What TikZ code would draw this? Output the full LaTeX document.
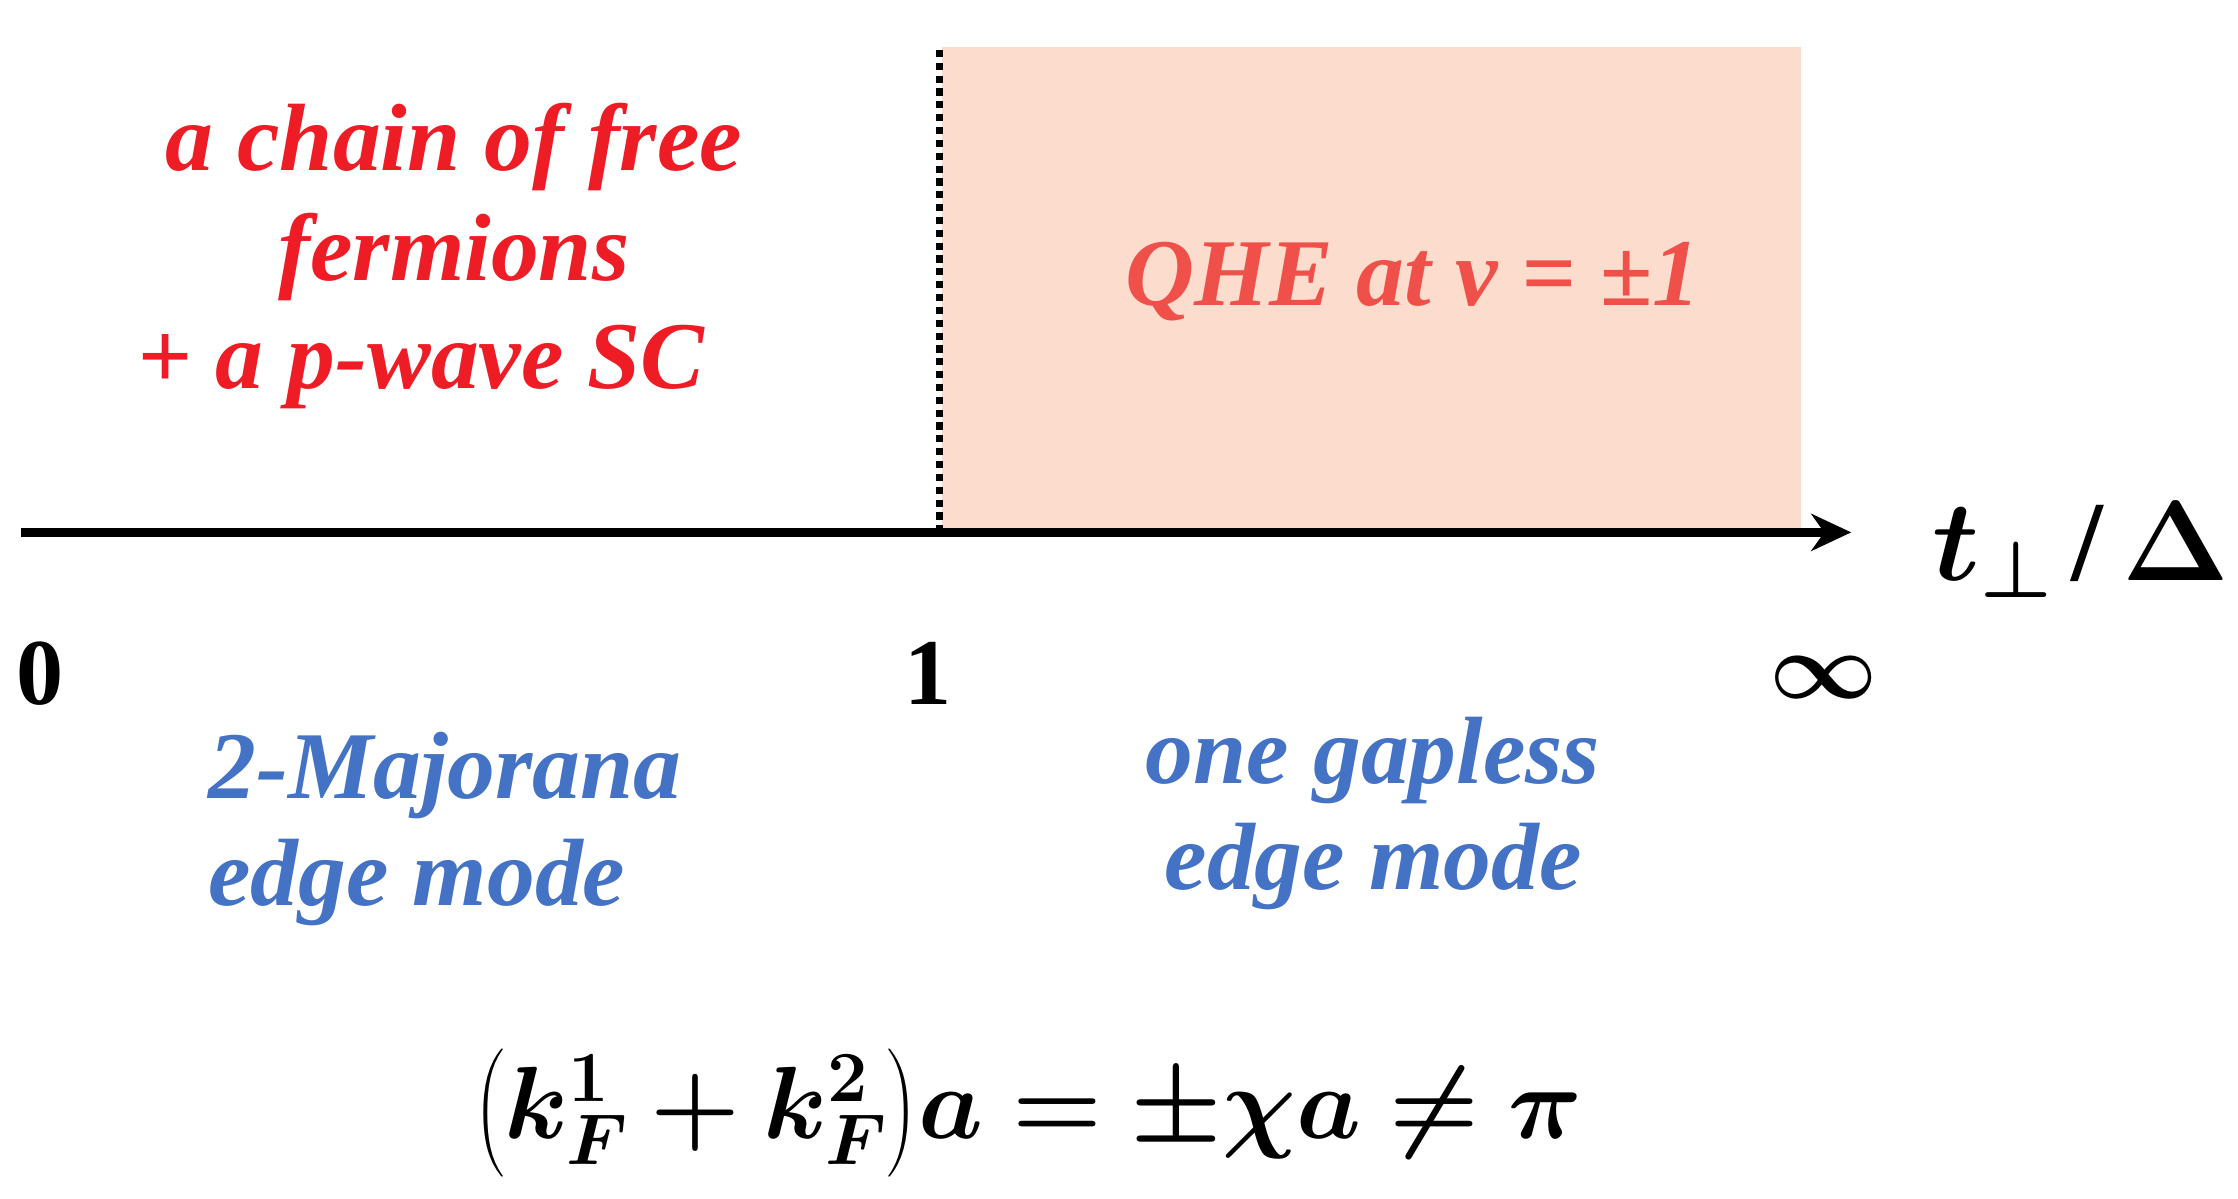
\RequirePackage{fix-cm}
\documentclass[tikz,border=0pt]{standalone}
\usepackage{fontspec}
\usepackage{amsmath,bm}
\setmainfont{Liberation Serif}
\usetikzlibrary{arrows.meta}
\definecolor{myred}{HTML}{EE1C25}
\definecolor{qred}{HTML}{F0504A}
\definecolor{myblue}{HTML}{4472C4}
\definecolor{shadecol}{HTML}{FCDCCD}
\tikzset{
  lab/.style={font=\fontsize{67}{74}\selectfont\bfseries\itshape, inner sep=0pt, anchor=center},
  tick/.style={font=\fontsize{66}{70}\selectfont\bfseries, inner sep=0pt}
}
\begin{document}
\begin{tikzpicture}[x=1pt,y=-1pt]
\useasboundingbox (0,0) rectangle (1568,840);
\fill[shadecol] (660,33) rectangle (1262,370);
\draw[line width=5pt, dash pattern=on 5pt off 4pt] (658,35) -- (658,372);
\coordinate (s) at (15,373);
\coordinate (e) at (1297,373);
\draw[line width=6pt, -{Stealth[length=28pt,width=26pt]}] (s) -- (e);
\node[inner sep=0pt, font=\fontsize{80}{90}\selectfont\bfseries] (tl) at (1458,385) {$\bm{t_\perp}$\,/\,$\bm{\Delta}$};
\node[tick] (z) at (28,472) {0};
\node[tick] (o) at (650,472) {1};
\node[tick] (inf) at (1278,475) {$\bm\infty$};
\node[lab, text=myred] (r1) at (318,103) {a chain of free};
\node[lab, text=myred] (r2) at (318,180) {fermions};
\node[lab, text=myred] (r3) at (295,257) {+ a p-wave SC};
\node[lab, text=qred] (q) at (990,197) {QHE at v = ±1};
\node[lab, text=myblue] (b1) at (312,543) {2-Majorana};
\node[lab, text=myblue] (b2) at (292,618) {edge mode};
\node[lab, text=myblue] (b3) at (962,533) {one gapless};
\node[lab, text=myblue] (b4) at (962,607) {edge mode};
\node[inner sep=0pt, font=\fontsize{72}{80}\selectfont] (f) at (720,780) {$\bm{\bigl(k_F^1+k_F^2\bigr)a=\pm\chi a\neq\pi}$};
\end{tikzpicture}
\end{document}
